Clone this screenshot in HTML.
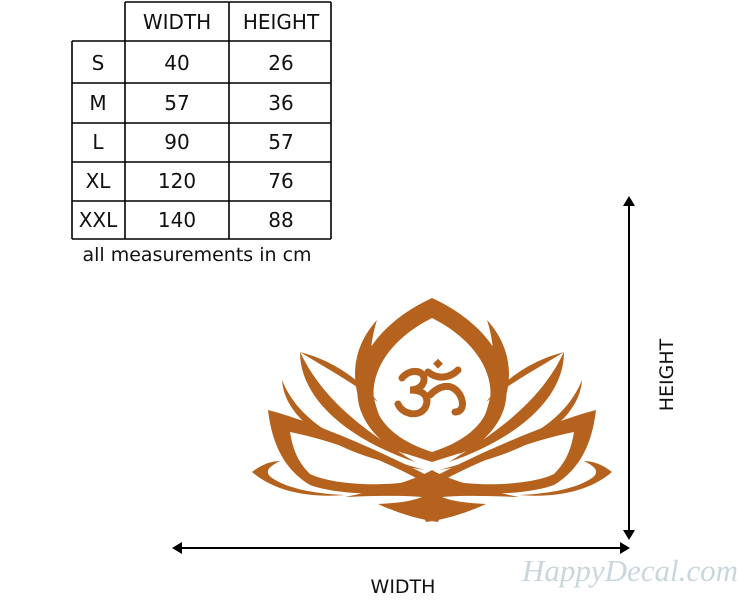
<!DOCTYPE html>
<html><head><meta charset="utf-8"><style>
html,body{margin:0;padding:0;background:#fff;}
body{width:750px;height:600px;position:relative;overflow:hidden;font-family:"DejaVu Sans","Liberation Sans",sans-serif;}
</style></head><body>
<svg width="750" height="600" viewBox="0 0 750 600" xmlns="http://www.w3.org/2000/svg" style="position:absolute;left:0;top:0">
<g stroke="#000" stroke-width="1.6" fill="none">
<line x1="125" y1="2" x2="331" y2="2"/>
<line x1="72" y1="41" x2="331" y2="41"/>
<line x1="72" y1="83" x2="331" y2="83"/>
<line x1="72" y1="123" x2="331" y2="123"/>
<line x1="72" y1="162" x2="331" y2="162"/>
<line x1="72" y1="201" x2="331" y2="201"/>
<line x1="72" y1="239" x2="331" y2="239"/>
<line x1="72" y1="41" x2="72" y2="239"/>
<line x1="125" y1="2" x2="125" y2="239"/>
<line x1="229" y1="2" x2="229" y2="239"/>
<line x1="331" y1="2" x2="331" y2="239"/>
</g>
<g font-size="20" fill="#111" text-anchor="middle" font-family="DejaVu Sans, Liberation Sans, sans-serif">
<text x="177" y="29">WIDTH</text><text x="281" y="29">HEIGHT</text>
<text x="98" y="70">S</text><text x="177" y="70">40</text><text x="281" y="70">26</text>
<text x="98" y="110">M</text><text x="177" y="110">57</text><text x="281" y="110">36</text>
<text x="98" y="149">L</text><text x="177" y="149">90</text><text x="281" y="149">57</text>
<text x="98" y="188">XL</text><text x="177" y="188">120</text><text x="281" y="188">76</text>
<text x="98" y="227">XXL</text><text x="177" y="227">140</text><text x="281" y="227">88</text>
<text x="197" y="261" font-size="19">all measurements in cm</text>
</g>
<g fill="#b5621e" fill-rule="evenodd">
<path d="M432,298 C480,320 515,360 505,405 C500,425 485,440 470,450 L432,462 L394,450 C379,440 364,425 359,405 C349,360 384,320 432,298 Z M432,318 C472,338 494,370 490,400 C487,420 470,440 432,452 C394,440 377,420 374,400 C370,370 392,338 432,318 Z"/>
<g id="half">
<path d="M252,472 C262,464 272,461 280,461 C268,467 264,472 272,478 C290,490 320,494 345,495 C310,498 275,492 252,472 Z"/>
<path d="M268,410 C300,418 370,445 432,478 L432,488 C400,496 340,496 310,485 C285,470 272,445 268,410 Z M290,432 C330,440 380,458 420,480 C380,488 330,484 310,474 C298,462 293,450 290,432 Z"/>
<path d="M345,497 C380,490 415,480 432,470 C442,488 446,505 438,522 C420,520 395,512 378,504 C395,503 410,502 422,497 C400,495 372,496 345,497 Z"/>
<path d="M282,380 C285,425 345,458 425,470 C350,450 300,425 282,380 Z"/>
<path d="M300,352 C300,400 350,440 415,462 C360,428 322,398 300,352 Z"/>
<path d="M300,352 C330,360 355,375 378,402 C352,382 326,368 300,352 Z"/>
<path d="M377,320 C340,360 350,420 405,455 C368,420 364,360 377,320 Z"/>
</g>
<use href="#half" transform="translate(864,0) scale(-1,1)"/>
</g>
<g stroke="#b5621e" stroke-width="7" fill="none" stroke-linecap="round">
<path d="M402,378 C410,368 425,370 424,380 C423,388 415,390 410,390 C425,390 430,398 425,408 C418,418 402,414 398,404"/>
<path d="M430,395 C440,385 452,382 460,395 C465,405 462,412 455,412"/>
<path d="M428,372 C438,380 450,378 458,370"/>
</g>
<rect x="435" y="360" width="7" height="7" fill="#b5621e" transform="rotate(45 438 363)"/>
<g stroke="#000" stroke-width="2" fill="#000">
<line x1="629" y1="203" x2="629" y2="533"/>
<polygon points="629,196 623,206 635,206" stroke="none"/>
<polygon points="629,540 623,530 635,530" stroke="none"/>
<line x1="180" y1="548" x2="622" y2="548"/>
<polygon points="172,548 182,542 182,554" stroke="none"/>
<polygon points="630,548 620,542 620,554" stroke="none"/>
</g>
<text x="0" y="0" transform="translate(673,375) rotate(-90)" text-anchor="middle" font-size="19" fill="#111">HEIGHT</text>
<text x="403" y="593" text-anchor="middle" font-size="19" fill="#111">WIDTH</text>
<text x="630" y="581" text-anchor="middle" font-size="31" font-style="italic" font-family="Liberation Serif, serif" fill="#c9d7dc">HappyDecal.com</text>
</svg>
</body></html>
